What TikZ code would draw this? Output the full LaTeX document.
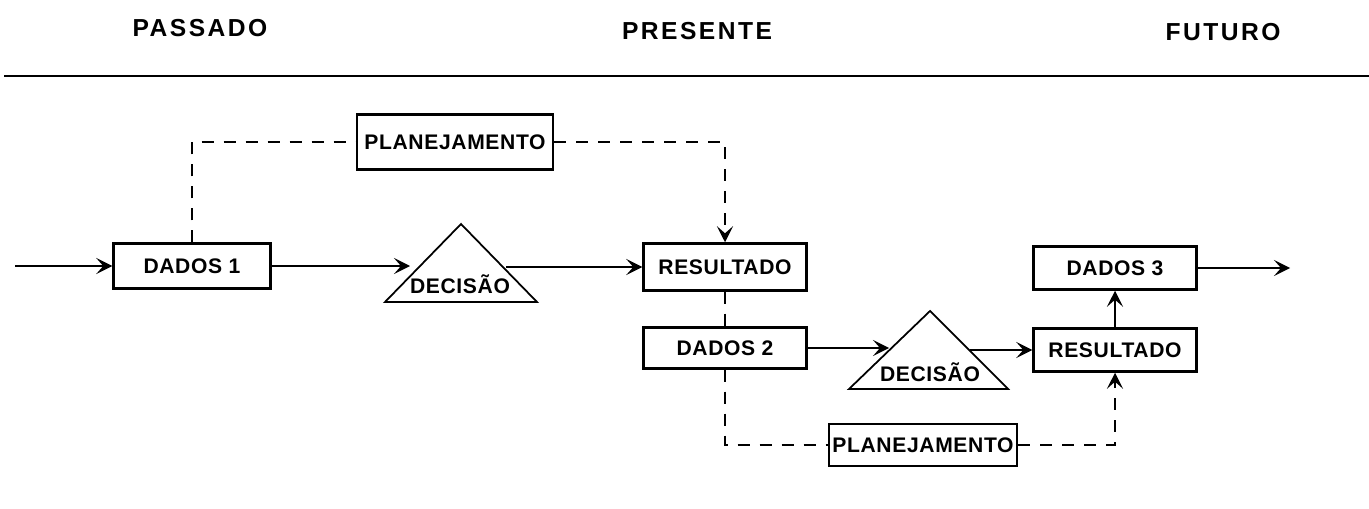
\documentclass[tikz,border=0pt]{standalone}
\usepackage{fontspec}
\setmainfont{Liberation Sans}
\usetikzlibrary{arrows.meta}

\begin{document}
\begin{tikzpicture}[x=0.2mm, y=-0.2mm,
		caixa/.style={draw, line width=1.4pt, minimum width=3.26cm, minimum height=0.86cm, inner sep=0pt,
			font=\fontsize{12}{14}\selectfont\bfseries\addfontfeature{LetterSpace=3}},
		rotulo/.style={font=\fontsize{12}{14}\selectfont\bfseries\addfontfeature{LetterSpace=3}},
		titulo/.style={font=\fontsize{14}{16}\selectfont\bfseries\addfontfeature{LetterSpace=10}},
		seta/.style={-{Stealth[length=3.2mm, width=3.2mm, inset=1.4mm]}, line width=1.2pt},
		tracejado/.style={line width=1.1pt, dash pattern=on 2.4mm off 2mm},
		triangulo/.style={draw, line width=1pt, line join=miter}]
		\useasboundingbox (0,0) rectangle (1369,509);

		\node[titulo] (passado)  at (200,28)  {PASSADO};
		\node[titulo] (presente) at (697,31)  {PRESENTE};
		\node[titulo] (futuro)   at (1223,32) {FUTURO};
		\draw[line width=1.5pt] (4,76) -- (1369,76);

		\node[caixa, minimum width=3.14cm, minimum height=0.9cm] (dados1) at (192,266) {DADOS 1};
		\node[caixa, minimum width=3.92cm, minimum height=1.1cm] (plan1) at (455,142) {PLANEJAMENTO};
		\node[caixa, minimum height=0.94cm] (res1) at (725,267) {RESULTADO};
		\node[caixa, minimum height=0.82cm] (dados2) at (725,348) {DADOS 2};
		\node[caixa] (res2) at (1115,350) {RESULTADO};
		\node[caixa] (dados3) at (1115,268) {DADOS 3};
		\node[caixa, minimum width=3.76cm, minimum height=0.84cm] (plan2) at (923,445) {PLANEJAMENTO};

		\draw[triangulo] (385,302) -- (461,224) -- (537,302) -- cycle;
		\node[rotulo] (dec1) at (460,284) {DECISÃO};
		\draw[triangulo] (849,389) -- (930,311) -- (1008,389) -- cycle;
		\node[rotulo] (dec2) at (930,372) {DECISÃO};

		\coordinate (entrada) at (15,266);
		\coordinate (saida) at (1290,268);
		\coordinate (dec1 in) at (410,266);
		\coordinate (dec1 out) at (506,267);
		\coordinate (dec2 in) at (889,348);
		\coordinate (dec2 out) at (970,350);

		\draw[seta] (entrada) -- (dados1.west);
		\draw[seta] (dados1.east) -- (dec1 in);
		\draw[seta] (dec1 out) -- (dec1 out -| res1.west);
		\draw[seta] (dados2.east) -- (dec2 in);
		\draw[seta] (dec2 out) -- (dec2 out -| res2.west);
		\draw[seta] (res2) -- (dados3);
		\draw[seta] (dados3.east) -- (saida);

		\draw[tracejado] (dados1.north) |- (plan1.west);
		\draw[tracejado, seta] (plan1.east) -| (res1.north);
		\draw[tracejado] (res1) -- (dados2);
		\draw[tracejado] (dados2.south) |- (plan2.west);
		\draw[tracejado, seta] (plan2.east) -| (res2.south);
	\end{tikzpicture}
\end{document}
